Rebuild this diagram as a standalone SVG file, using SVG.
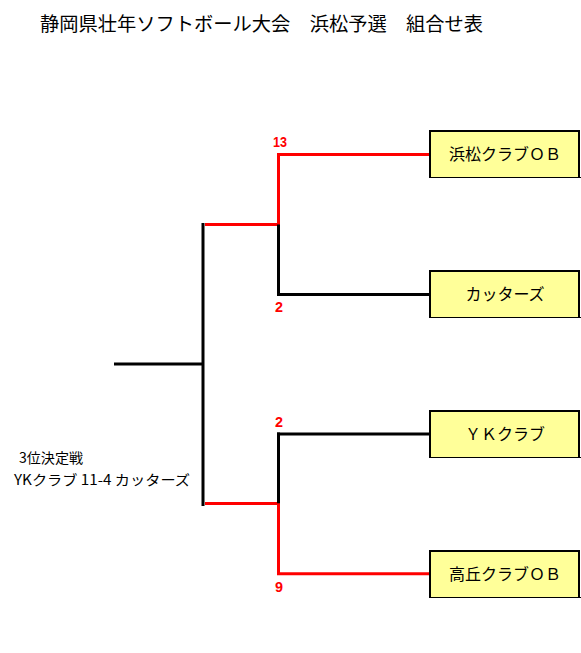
<svg xmlns="http://www.w3.org/2000/svg" width="581" height="653" viewBox="0 0 581 653">
<style>
.jp{font-family:"Noto Sans CJK JP","Liberation Sans",sans-serif;fill:#000}
.score{font-family:"Liberation Sans",Arial,sans-serif;font-weight:bold;font-size:14px;fill:#ff0000}
.box{fill:#ffff99;stroke:none}
.bd{stroke:#000;fill:none}
.k{stroke:#000;fill:none;stroke-width:3}
.r{stroke:#ff0000;fill:none;stroke-width:3}
.name{font-size:16px;text-anchor:middle}
</style>
<rect width="581" height="653" fill="#fff"/>
<text class="jp" x="40" y="31" font-size="19" textLength="443" lengthAdjust="spacingAndGlyphs">静岡県壮年ソフトボール大会　浜松予選　組合せ表</text>

<g id="connectors">
  <line class="k" x1="114" y1="364" x2="203" y2="364"/>
  <line class="k" x1="203" y1="223" x2="203" y2="506" stroke-width="4"/>
  <line class="r" x1="205" y1="224.5" x2="280" y2="224.5"/>
  <line class="r" x1="205" y1="503.5" x2="280" y2="503.5"/>
  <line class="r" x1="278.5" y1="153" x2="278.5" y2="224.5"/>
  <line class="k" x1="278.5" y1="224.5" x2="278.5" y2="296"/>
  <line class="r" x1="277" y1="154.5" x2="429" y2="154.5"/>
  <line class="k" x1="277" y1="294.5" x2="429" y2="294.5"/>
  <line class="k" x1="278.5" y1="432.5" x2="278.5" y2="503.5"/>
  <line class="r" x1="278.5" y1="503.5" x2="278.5" y2="575"/>
  <line class="k" x1="277" y1="434" x2="429" y2="434"/>
  <line class="r" x1="277" y1="573.7" x2="429" y2="573.7"/>
</g>

<g id="scores">
  <text class="score" x="273" y="147" textLength="14" lengthAdjust="spacingAndGlyphs">13</text>
  <text class="score" x="275" y="312" textLength="8" lengthAdjust="spacingAndGlyphs">2</text>
  <text class="score" x="275" y="427" textLength="8" lengthAdjust="spacingAndGlyphs">2</text>
  <text class="score" x="275" y="592" textLength="8" lengthAdjust="spacingAndGlyphs">9</text>
</g>

<g id="team1">
  <rect class="box" x="429" y="130" width="151" height="48"/>
  <path class="bd" stroke-width="2" d="M430 178V131H579V178"/>
  <line class="bd" stroke-width="1" x1="429" y1="177.5" x2="581" y2="177.5"/>
  <text class="jp name" x="505" y="160">浜松クラブＯＢ</text>
</g>
<g id="team2">
  <rect class="box" x="429" y="270" width="151" height="48"/>
  <path class="bd" stroke-width="2" d="M430 318V271H579V318"/>
  <line class="bd" stroke-width="1" x1="429" y1="317.5" x2="581" y2="317.5"/>
  <text class="jp name" x="505" y="300">カッターズ</text>
</g>
<g id="team3">
  <rect class="box" x="429" y="410" width="151" height="48"/>
  <path class="bd" stroke-width="2" d="M430 458V411H579V458"/>
  <line class="bd" stroke-width="1" x1="429" y1="457.5" x2="581" y2="457.5"/>
  <text class="jp name" x="505" y="440">ＹＫクラブ</text>
</g>
<g id="team4">
  <rect class="box" x="429" y="550" width="151" height="48"/>
  <path class="bd" stroke-width="2" d="M430 598V551H579V598"/>
  <line class="bd" stroke-width="1" x1="429" y1="597.5" x2="581" y2="597.5"/>
  <text class="jp name" x="505" y="580">高丘クラブＯＢ</text>
</g>

<g id="third-place">
  <text class="jp" x="19" y="463" font-size="14" textLength="64" lengthAdjust="spacingAndGlyphs">3位決定戦</text>
  <text class="jp" x="14" y="485" font-size="14" textLength="176" lengthAdjust="spacingAndGlyphs">YKクラブ 11-4 カッターズ</text>
</g>
</svg>
